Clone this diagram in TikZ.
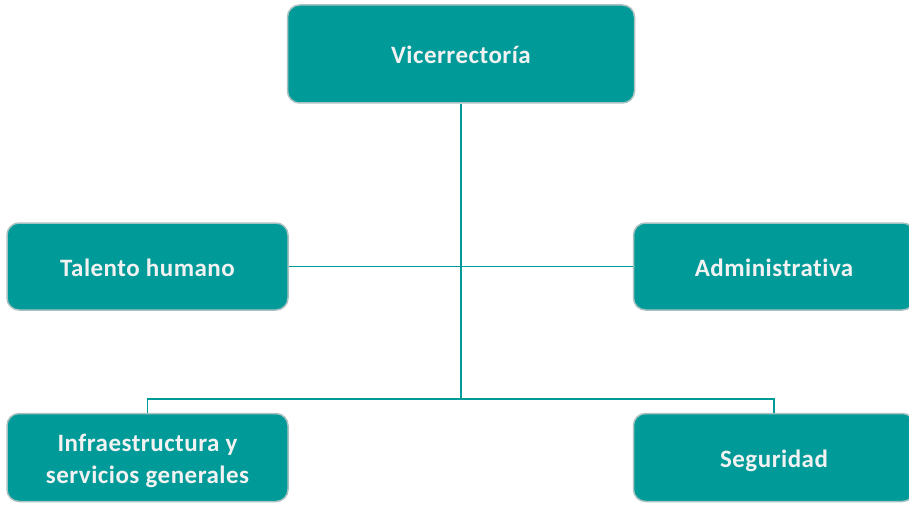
\documentclass[tikz,border=0pt]{standalone}
\usepackage{fontspec}
\setmainfont{Carlito}[Ligatures=NoCommon,LetterSpace=2]
\definecolor{teal}{HTML}{009A98}
\definecolor{edge}{HTML}{A9C2C1}
\definecolor{txt}{HTML}{F2F2F2}
\begin{document}
\begin{tikzpicture}[x=1pt,y=-1pt,
  box/.style={draw=edge,line width=1.5pt,fill=teal,rounded corners=12pt,
    text=txt,font=\fontsize{25}{32}\selectfont\bfseries,align=center,inner sep=0pt,
    minimum width=281pt,minimum height=88pt,text height=21pt,text depth=2pt},
  twoline/.style={text height=54pt,text depth=2pt},
  link/.style={draw=teal,line width=1.5pt}]
\useasboundingbox (0,0) rectangle (909,508);
\node[box,minimum width=347pt,minimum height=98pt] (vr) at (461,54) {Vicerrectoría};
\node[box,minimum height=87pt] (th) at (147.5,266.5) {Talento humano};
\node[box,minimum height=87pt] (ad) at (774,266.5) {Administrativa};
\node[box,twoline] (in) at (147.5,457.5) {Infraestructura y\\servicios generales};
\node[box] (se) at (774,457.5) {Seguridad};
\coordinate (j) at (461,399);
\draw[link] (vr.south) -- (j);
\draw[link] (th.east) -- (ad.west);
\draw[link] (in.north) |- (j) -| (se.north);
\end{tikzpicture}
\end{document}
